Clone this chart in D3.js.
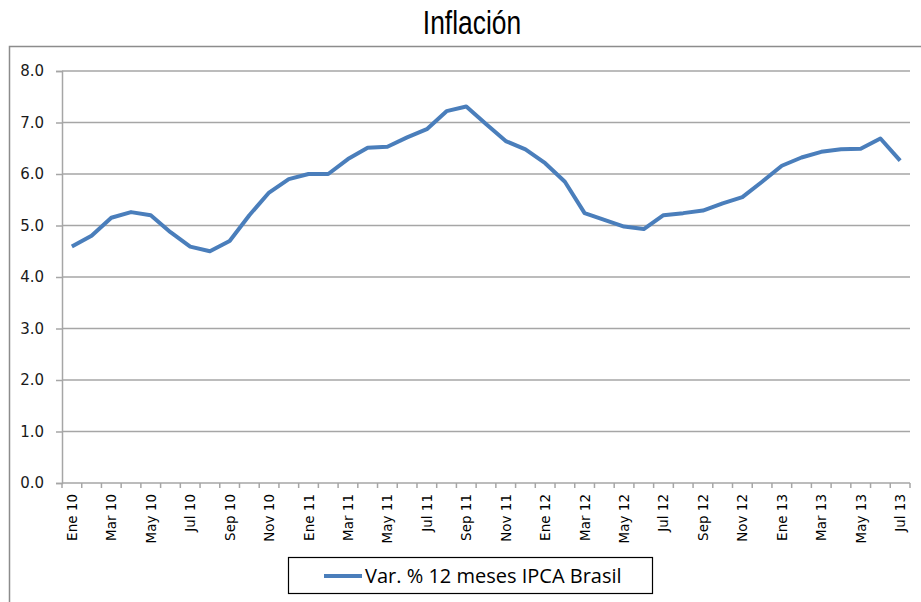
<!DOCTYPE html>
<html>
<head>
<meta charset="utf-8">
<script src="https://cdn.jsdelivr.net/npm/d3@7"></script>
<style>
  body { margin: 0; background: #fff; }
  svg { display: block; }
</style>
</head>
<body>
<svg id="chart" width="921" height="602"></svg>
<script>
// DATA
const months = ["Ene", "Feb", "Mar", "Abr", "May", "Jun", "Jul", "Ago", "Sep", "Oct", "Nov", "Dic"];
const years = ["10", "11", "12", "13"];
const categories = [];
years.forEach(y => months.forEach(m => categories.push(m + " " + y)));
categories.length = 43; // Ene 10 .. Jul 13

const ipca = [
  4.59, 4.80, 5.15, 5.26, 5.20, 4.87, 4.59, 4.50, 4.70, 5.20, 5.64, 5.90,
  6.00, 6.00, 6.29, 6.51, 6.53, 6.71, 6.87, 7.22, 7.31, 6.97, 6.64, 6.48,
  6.21, 5.85, 5.24, 5.11, 4.98, 4.93, 5.20, 5.24, 5.29, 5.43, 5.55, 5.85,
  6.16, 6.32, 6.43, 6.48, 6.49, 6.69, 6.26
];
const yTicks = [0, 1, 2, 3, 4, 5, 6, 7, 8];
const seriesName = "Var. % 12 meses IPCA Brasil";
const titleText = "Inflación";

// LAYOUT
const svg = d3.select("#chart");
const plot = {left: 62, right: 910, top: 71, bottom: 483};
const lineColor = "#4a7ebb";
const gridColor = "#a6a6a6";

// outer frame
svg.append("path")
  .attr("d", "M9.5,602 L9.5,46.5 L921,46.5")
  .attr("fill", "none")
  .attr("stroke", "#8c8c8c")
  .attr("stroke-width", 1.5);

// title, squeezed to look like a narrow face
svg.append("text")
  .attr("transform", "translate(472,34) scale(0.8,1)")
  .attr("text-anchor", "middle")
  .style("font-family", "'Liberation Sans', Arial, sans-serif")
  .style("font-size", "33px")
  .attr("fill", "#000")
  .text(titleText);

// SCALES
const x = d3.scaleBand().domain(categories).range([plot.left, plot.right]).padding(0);
const y = d3.scaleLinear().domain([0, 8]).range([plot.bottom, plot.top]);

// gridlines
svg.append("g")
  .selectAll("line")
  .data(yTicks.filter(d => d > 0))
  .join("line")
  .attr("x1", plot.left)
  .attr("x2", plot.right)
  .attr("y1", d => y(d))
  .attr("y2", d => y(d))
  .attr("stroke", gridColor)
  .attr("stroke-width", 1.5);

// y axis
const yAxis = svg.append("g")
  .attr("transform", `translate(${plot.left},0)`)
  .call(d3.axisLeft(y).tickValues(yTicks).tickFormat(d3.format(".1f")).tickSize(6).tickPadding(12));
yAxis.select(".domain").attr("stroke", gridColor).attr("stroke-width", 1.5);
yAxis.selectAll(".tick line").attr("stroke", gridColor).attr("stroke-width", 1.5);
yAxis.selectAll("text")
  .style("font-family", "'DejaVu Sans', Verdana, sans-serif")
  .style("font-size", "15px")
  .attr("fill", "#1a1a1a");

// x axis: ticks on category boundaries
const xAxisG = svg.append("g").attr("transform", `translate(0,${plot.bottom})`);
xAxisG.append("line")
  .attr("x1", plot.left).attr("x2", plot.right)
  .attr("y1", 0).attr("y2", 0)
  .attr("stroke", gridColor).attr("stroke-width", 1.5);
xAxisG.selectAll("line.tk")
  .data(categories.concat(["end"]))
  .join("line")
  .attr("class", "tk")
  .attr("x1", (d, i) => plot.left + i * x.step())
  .attr("x2", (d, i) => plot.left + i * x.step())
  .attr("y1", 0).attr("y2", 5)
  .attr("stroke", gridColor).attr("stroke-width", 1.5);
xAxisG.selectAll("text")
  .data(categories.filter((d, i) => i % 2 === 0))
  .join("text")
  .attr("transform", d => `translate(${x(d) + x.bandwidth() / 2 + 5},11) rotate(-90)`)
  .attr("text-anchor", "end")
  .style("font-family", "'DejaVu Sans', Verdana, sans-serif")
  .style("font-size", "13.5px")
  .attr("fill", "#000")
  .text(d => d);

// series line
const line = d3.line()
  .x((d, i) => x(categories[i]) + x.bandwidth() / 2)
  .y(d => y(d));
svg.append("path")
  .datum(ipca)
  .attr("d", line)
  .attr("fill", "none")
  .attr("stroke", lineColor)
  .attr("stroke-width", 4)
  .attr("stroke-linejoin", "round");

// legend
const legend = svg.append("g");
legend.append("rect")
  .attr("x", 288.5).attr("y", 557.5)
  .attr("width", 364).attr("height", 36)
  .attr("fill", "#fff")
  .attr("stroke", "#000")
  .attr("stroke-width", 1.2);
legend.append("line")
  .attr("x1", 324).attr("x2", 362)
  .attr("y1", 576).attr("y2", 576)
  .attr("stroke", lineColor).attr("stroke-width", 4);
legend.append("text")
  .attr("x", 365).attr("y", 583)
  .style("font-family", "'Open Sans', 'Noto Sans', sans-serif")
  .style("font-size", "20px")
  .attr("fill", "#000")
  .text(seriesName);
</script>
</body>
</html>
